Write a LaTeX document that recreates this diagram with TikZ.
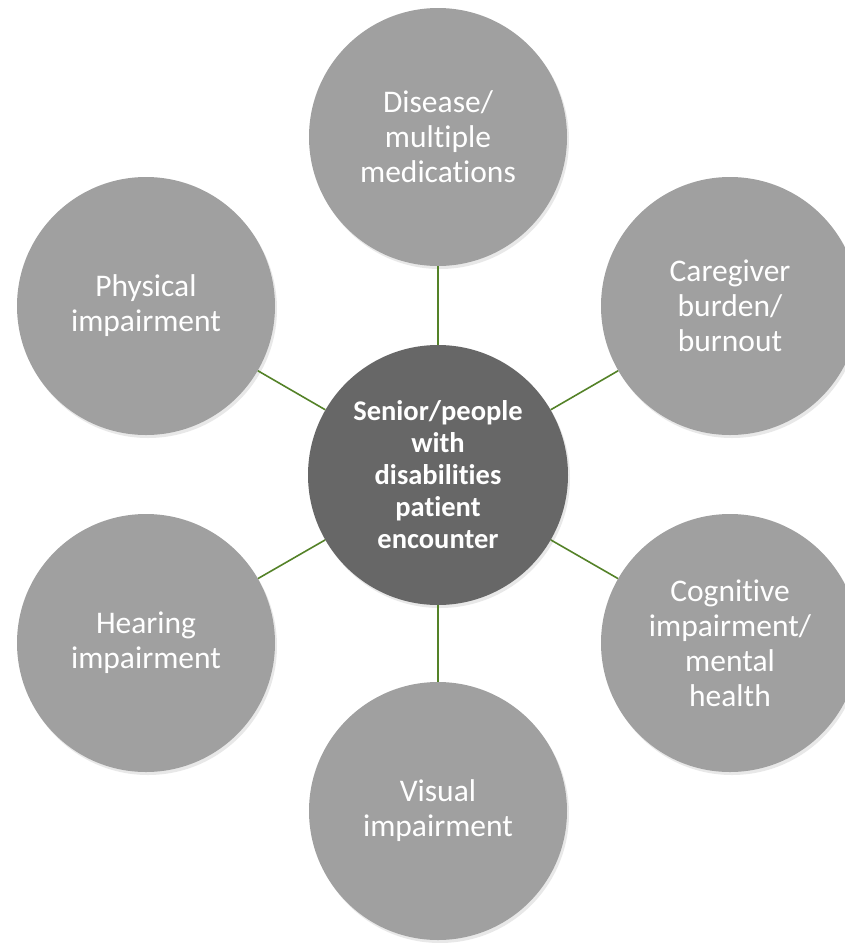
\documentclass[tikz,border=0pt]{standalone}
\usepackage{fontspec}
\setmainfont{Carlito}[Ligatures=NoCommon]
\usepackage{xcolor}
\usetikzlibrary{positioning,shadows}

\definecolor{outergray}{RGB}{160,160,160}
\definecolor{innergray}{RGB}{103,103,103}
\definecolor{linkgreen}{RGB}{84,130,40}

\tikzset{
    factor/.style={circle, fill=outergray, minimum size=258pt, inner sep=0pt,
        text=white, align=center, font=\fontsize{31.5}{35}\selectfont,
        drop shadow={opacity=0.18, shadow xshift=2pt, shadow yshift=-3pt}},
    hub/.style={factor, fill=innergray, minimum size=260pt,
        font=\bfseries\fontsize{28.5}{32}\selectfont},
    link/.style={draw=linkgreen, line width=1.6pt}
}

\begin{document}
\begin{tikzpicture}[x=1pt, y=-1pt]
    \clip (0,0) rectangle (845,943);

    % Centre
    \node[hub] (center) at (438,475) {Senior/people\\with\\disabilities\\patient\\encounter};

    % Factors
    \node[factor] (disease)   at (438,137) {Disease/\\multiple\\medications};
    \node[factor] (caregiver) at (730,306) {Caregiver\\burden/\\burnout};
    \node[factor] (cognitive) at (730,643) {Cognitive\\impairment/\\mental\\health};
    \node[factor] (visual)    at (438,811) {Visual\\impairment};
    \node[factor] (hearing)   at (146,643) {Hearing\\impairment};
    \node[factor] (physical)  at (146,306) {Physical\\impairment};

    % Links
    \foreach \n in {disease,caregiver,cognitive,visual,hearing,physical}
        \draw[link] (center) -- (\n);
\end{tikzpicture}
\end{document}
